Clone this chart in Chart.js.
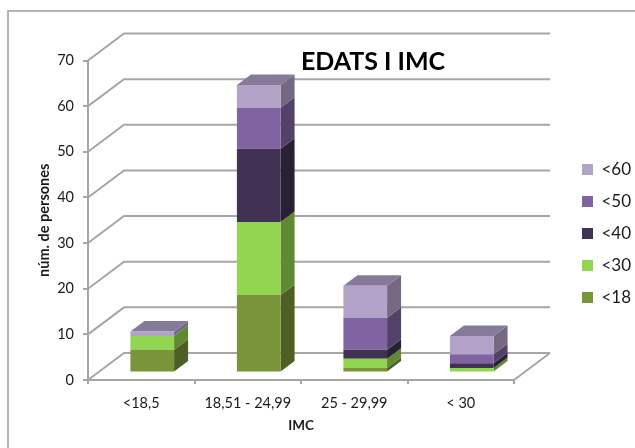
<!DOCTYPE html>
<html>
<head>
<meta charset="utf-8">
<title>EDATS I IMC</title>
<script src="https://cdn.jsdelivr.net/npm/chart.js@4/dist/chart.umd.min.js"></script>
<style>
  html, body { margin: 0; padding: 0; background: #fff; }
  #wrap { width: 635px; height: 448px; }
</style>
</head>
<body>
<div id="wrap"><canvas id="edatsChart" width="635" height="448"></canvas></div>
<script>
const categories = ['<18,5', '18,51 - 24,99', '25 - 29,99', '< 30'];

const menys18 = [5, 17, 1, 0];
const menys30 = [3, 16, 2, 1];
const menys40 = [0, 16, 2, 1];
const menys50 = [0, 9, 7, 2];
const menys60 = [1, 5, 7, 4];

const seriesNames = ['<18', '<30', '<40', '<50', '<60'];
const frontColors = ['#7a9439', '#92d550', '#413253', '#8064a2', '#b3a2c7'];
const sideColors = ['#4d5f24', '#5f8a33', '#2a2036', '#534169', '#746981'];
const topColor = '#857a99';

const gridColor = '#a6a6a6';
const textColor = '#1a1a1a';

// depth of the box and where the bars sit inside it
const wallDx = 36, wallDy = -27;
const barShiftX = 11, barShiftY = -7.5;
const barDepthX = 14, barDepthY = -10.5;

function line(ctx, pts) {
  ctx.beginPath();
  pts.forEach((p, i) => i ? ctx.lineTo(p[0], p[1]) : ctx.moveTo(p[0], p[1]));
  ctx.stroke();
}

function face(ctx, color, pts) {
  ctx.fillStyle = color;
  ctx.beginPath();
  pts.forEach((p, i) => i ? ctx.lineTo(p[0], p[1]) : ctx.moveTo(p[0], p[1]));
  ctx.closePath();
  ctx.fill();
}

const box3d = {
  id: 'box3d',
  beforeDatasetsDraw(chart) {
    const { ctx, chartArea: area, scales: { y } } = chart;
    ctx.save();
    // outer frame, open on the right and at the bottom
    ctx.strokeStyle = '#b5b5b5';
    ctx.lineWidth = 2;
    line(ctx, [[8, 448], [8, 11], [635, 11]]);

    // back wall grid and floor
    ctx.strokeStyle = gridColor;
    ctx.lineWidth = 2;
    y.ticks.forEach(t => {
      const py = y.getPixelForValue(t.value);
      line(ctx, [[area.left, py], [area.left + wallDx, py + wallDy], [area.right + wallDx, py + wallDy]]);
    });
    const py0 = y.getPixelForValue(0);
    line(ctx, [[area.right, py0], [area.right + wallDx, py0 + wallDy]]);
    ctx.restore();

    // bars are pushed back into the box while the datasets draw
    ctx.save();
    ctx.translate(barShiftX, barShiftY);
    chart.data.datasets.forEach((ds, i) => {
      chart.getDatasetMeta(i).data.forEach((bar, j) => {
        if (!ds.data[j]) return;
        const { x, y: top, base, width } = bar.getProps(['x', 'y', 'base', 'width'], true);
        const right = x + width / 2, left = x - width / 2;
        face(ctx, sideColors[i], [[right, top], [right + barDepthX, top + barDepthY], [right + barDepthX, base + barDepthY], [right, base]]);
        // the cap only shows on the highest filled segment
        const above = chart.data.datasets.slice(i + 1).some(d => d.data[j] > 0);
        if (!above) {
          face(ctx, topColor, [[left, top], [left + barDepthX, top + barDepthY], [right + barDepthX, top + barDepthY], [right, top]]);
        }
      });
    });
  },
  afterDatasetsDraw(chart) {
    chart.ctx.restore();
  },
  afterLayout(chart) {
    // legend sits in the free column to the right of the box
    const lg = chart.legend;
    const pad = lg.options.labels.padding;
    lg.left = 582 - pad;
    lg.right = lg.left + lg.width;
    lg.top = 161 - pad;
    lg.bottom = lg.top + lg.height;
  },
  afterDraw(chart) {
    const { ctx } = chart;
    ctx.save();
    ctx.fillStyle = '#000';
    ctx.font = 'bold 25px Lato';
    ctx.textAlign = 'center';
    ctx.textBaseline = 'alphabetic';
    ctx.fillText('EDATS I IMC', 373, 70);
    ctx.restore();
  }
};

const allSeries = [menys18, menys30, menys40, menys50, menys60];

new Chart(document.getElementById('edatsChart'), {
  type: 'bar',
  data: {
    labels: categories,
    datasets: allSeries.map((values, i) => ({
      label: seriesNames[i],
      data: values,
      backgroundColor: frontColors[i],
      borderWidth: 0,
      clip: false,
      barPercentage: 0.41,
      categoryPercentage: 1
    }))
  },
  plugins: [box3d],
  options: {
    responsive: false,
    animation: false,
    layout: { padding: { top: 60.5, right: 121, bottom: 0, left: 0 } },
    scales: {
      x: {
        stacked: true,
        afterFit: s => { s.height = 68; },
        grid: { drawOnChartArea: false, color: gridColor, lineWidth: 2, tickLength: 4 },
        border: { color: gridColor, width: 2 },
        ticks: { color: textColor, font: { family: 'Lato', size: 14.5 }, padding: 11, maxRotation: 0 },
        title: { display: true, text: 'IMC', color: textColor, font: { family: 'Lato', size: 13.5, weight: 'bold' }, padding: { top: 0, bottom: 14 } }
      },
      y: {
        stacked: true,
        min: 0,
        max: 70,
        afterFit: s => { s.width = 88; },
        grid: { drawOnChartArea: false, color: gridColor, lineWidth: 2, tickLength: 5 },
        border: { color: gridColor, width: 2 },
        ticks: { stepSize: 10, color: textColor, font: { family: 'Lato', size: 14.5 }, padding: 9 },
        title: { display: true, text: 'núm. de persones', color: textColor, font: { family: 'Lato', size: 14.5, weight: 'bold' }, padding: { top: 36, bottom: 0 } }
      }
    },
    plugins: {
      tooltip: { enabled: false },
      legend: {
        position: 'chartArea',
        align: 'start',
        reverse: true,
        labels: {
          color: textColor,
          boxWidth: 11,
          boxHeight: 11,
          padding: 15,
          font: { family: 'Lato', size: 17 }
        }
      }
    }
  }
});
</script>
</body>
</html>
